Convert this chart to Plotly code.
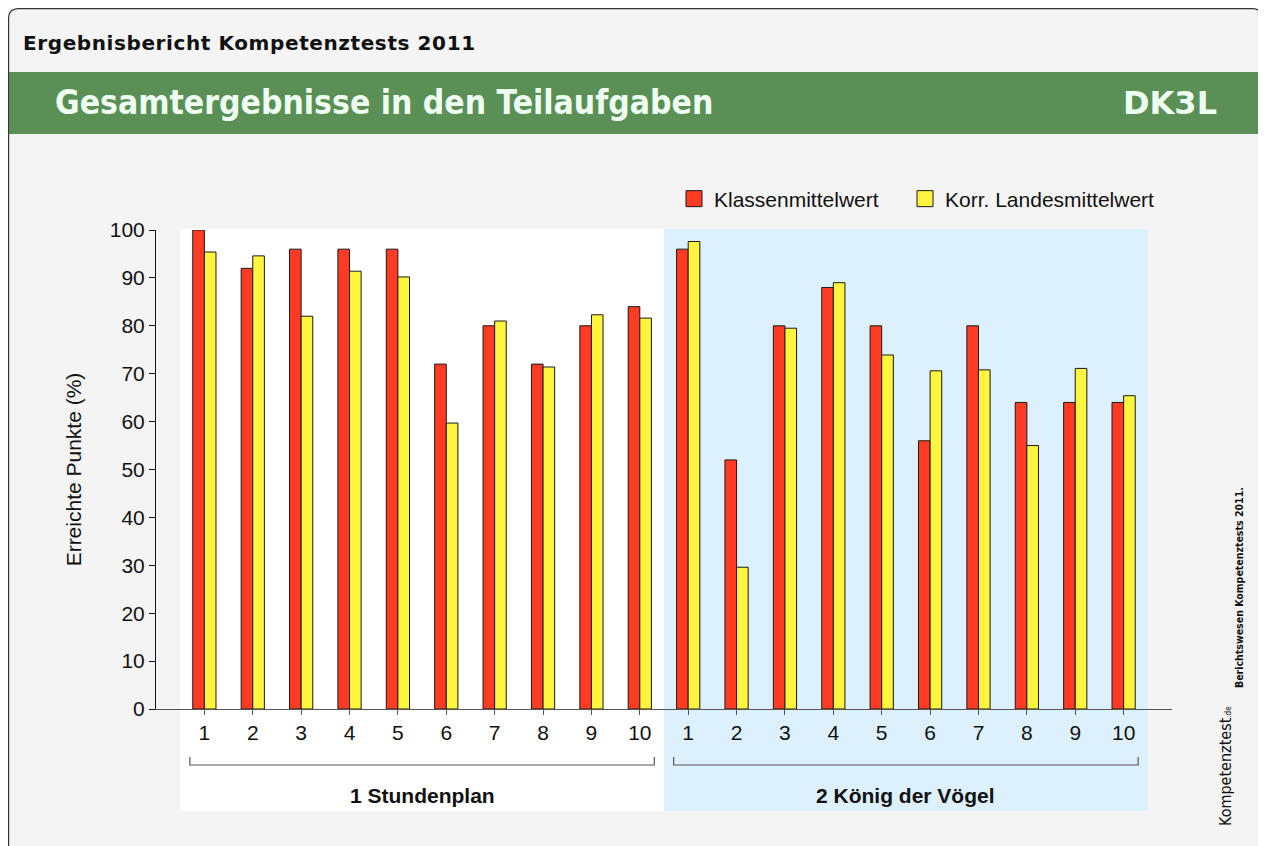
import plotly.graph_objects as go

# ---------------- data ----------------
task_labels = ["1", "2", "3", "4", "5", "6", "7", "8", "9", "10",
               "1", "2", "3", "4", "5", "6", "7", "8", "9", "10"]
group_names = ["1 Stundenplan", "2 König der Vögel"]
klassen = [100, 92, 96, 96, 96, 72, 80, 72, 80, 84,
           96, 52, 80, 88, 80, 56, 80, 64, 64, 64]
landes = [95.4, 94.6, 82.0, 91.4, 90.2, 59.7, 81.0, 71.4, 82.3, 81.6,
          97.6, 29.6, 79.5, 89.0, 73.9, 70.6, 70.8, 55.0, 71.1, 65.4]
series_names = ["Klassenmittelwert", "Korr. Landesmittelwert"]
y_ticks = [0, 10, 20, 30, 40, 50, 60, 70, 80, 90, 100]

# ---------------- geometry helpers ----------------
OFF = 8                      # page body margin of the html file
W, H = 1266 - OFF, 846 - OFF
PL, PR, PT, PB = 156, 1172, 230, 709   # plot box in page pixels
ML, MR, MT, MB = PL - OFF, W - (PR - OFF), PT - OFF, H - (PB - OFF)
PW, PH = W - ML - MR, H - MT - MB


def px(x):
    return (x - OFF - ML) / PW


def py(y):
    return (H - MB - (y - OFF)) / PH


RED = "#ff3b24"
YEL = "#fff53e"
FONT = "Liberation Sans, Arial, Helvetica, sans-serif"
HFONT = "DejaVu Sans, sans-serif"
HFONT_C = "DejaVu Sans Condensed, DejaVu Sans, sans-serif"
FS = 21

xpos = list(range(len(klassen)))

fig = go.Figure()
fig.add_trace(go.Bar(x=xpos, y=klassen, name=series_names[0], showlegend=False,
                     marker=dict(color=RED, line=dict(color="#1a1a1a", width=1))))
fig.add_trace(go.Bar(x=xpos, y=landes, name=series_names[1], showlegend=False,
                     marker=dict(color=YEL, line=dict(color="#1a1a1a", width=1))))
# legend proxies (one legend box each, so they can be placed like the original)
fig.add_trace(go.Scatter(x=[None], y=[None], mode="markers", name=series_names[0],
                         legend="legend",
                         marker=dict(symbol="square", size=16, color=RED,
                                     line=dict(color="#1a1a1a", width=1))))
fig.add_trace(go.Scatter(x=[None], y=[None], mode="markers", name=series_names[1],
                         legend="legend2",
                         marker=dict(symbol="square", size=16, color=YEL,
                                     line=dict(color="#1a1a1a", width=1))))

shapes = []
# outer frame (rounded)
r = 10
x0, y0, x1, y1 = px(OFF + 0.6), py(OFF + 0.6), px(1262), py(870)
rx, ry = r / PW, r / PH
shapes.append(dict(type="path", xref="paper", yref="paper", layer="below",
                   path=(f"M {x0},{y1} L {x0},{y0 - ry} Q {x0},{y0} {x0 + rx},{y0} "
                         f"L {x1 - rx},{y0} Q {x1},{y0} {x1},{y0 - ry} L {x1},{y1} Z"),
                   fillcolor="#f4f4f4", line=dict(color="#333333", width=1.2)))
# green band
shapes.append(dict(type="rect", xref="paper", yref="paper", layer="below",
                   x0=px(OFF + 1), x1=px(1261.5), y0=py(134), y1=py(72),
                   fillcolor="#5a8f55", line=dict(width=0)))
# group backgrounds
shapes.append(dict(type="rect", xref="x", yref="paper", layer="below",
                   x0=-0.5, x1=9.5, y0=py(811), y1=py(229),
                   fillcolor="#ffffff", line=dict(width=0)))
shapes.append(dict(type="rect", xref="x", yref="paper", layer="below",
                   x0=9.5, x1=19.5, y0=py(811), y1=py(229),
                   fillcolor="#dcf1fd", line=dict(width=0)))
# brackets
for g in range(2):
    a, b = g * 10 - 0.3, g * 10 + 9.3
    shapes.append(dict(type="path", xref="x", yref="paper",
                       path=f"M {a},{py(757)} L {a},{py(765)} L {b},{py(765)} L {b},{py(757)}",
                       line=dict(color="#555555", width=1.2)))

annotations = [
    dict(text="<span style='letter-spacing:0.6px'><b>Ergebnisbericht Kompetenztests 2011</b></span>",
         xref="paper", yref="paper",
         x=px(21), y=py(43), xanchor="left", yanchor="middle", showarrow=False,
         font=dict(family=HFONT, size=20, color="#111111")),
    dict(text="<b>Gesamtergebnisse in den Teilaufgaben</b>", xref="paper", yref="paper",
         x=px(53), y=py(103), xanchor="left", yanchor="middle", showarrow=False,
         font=dict(family=HFONT_C, size=33.4, color="#eefff2")),
    dict(text="<b>DK3L</b>", xref="paper", yref="paper",
         x=px(1219), y=py(103), xanchor="right", yanchor="middle", showarrow=False,
         font=dict(family=HFONT, size=32, color="#eefff2")),
    dict(text="<b>Berichtswesen Kompetenztests 2011.</b>", xref="paper", yref="paper",
         x=px(1239), y=py(588), xanchor="center", yanchor="middle", showarrow=False,
         textangle=-90,
         font=dict(family=HFONT_C, size=10.5, color="#111111")),
    dict(text="Kompetenztest<span style='font-size:8px'>.de</span>", xref="paper", yref="paper",
         x=px(1225), y=py(766), xanchor="center", yanchor="middle", showarrow=False,
         textangle=-90,
         font=dict(family=HFONT_C, size=16, color="#111111")),
]
for g, name in enumerate(group_names):
    annotations.append(dict(text=f"<b>{name}</b>", xref="x", yref="paper",
                            x=g * 10 + 4.5, y=py(795), xanchor="center", yanchor="middle",
                            showarrow=False, font=dict(family=FONT, size=FS, color="#111111")))

legend_common = dict(orientation="h", yanchor="middle", xanchor="left",
                     bgcolor="rgba(0,0,0,0)", font=dict(size=FS), itemsizing="trace")

fig.update_layout(
    width=W, height=H,
    margin=dict(l=ML, r=MR, t=MT, b=MB, pad=0),
    paper_bgcolor="#ffffff",
    plot_bgcolor="rgba(0,0,0,0)",
    barmode="group", bargap=0.52, bargroupgap=0,
    font=dict(family=FONT, size=FS, color="#111111"),
    shapes=shapes, annotations=annotations,
    legend=dict(x=px(674), y=py(199), **legend_common),
    legend2=dict(x=px(905), y=py(199), **legend_common),
    xaxis=dict(range=[-1, 20], tickvals=xpos, ticktext=task_labels,
               showline=True, linecolor="#555555", linewidth=1.2,
               ticks="outside", ticklen=5, tickcolor="#555555", tickwidth=1,
               showgrid=False, zeroline=False, tickfont=dict(size=FS)),
    yaxis=dict(range=[0, 100], tickvals=y_ticks, showline=True, linecolor="#111111",
               linewidth=1, ticks="outside", ticklen=6, tickcolor="#111111",
               showgrid=False, zeroline=False, tickfont=dict(size=FS),
               title=dict(text="Erreichte Punkte (%)", font=dict(size=FS), standoff=22)),
)

fig.write_html("out.html")
